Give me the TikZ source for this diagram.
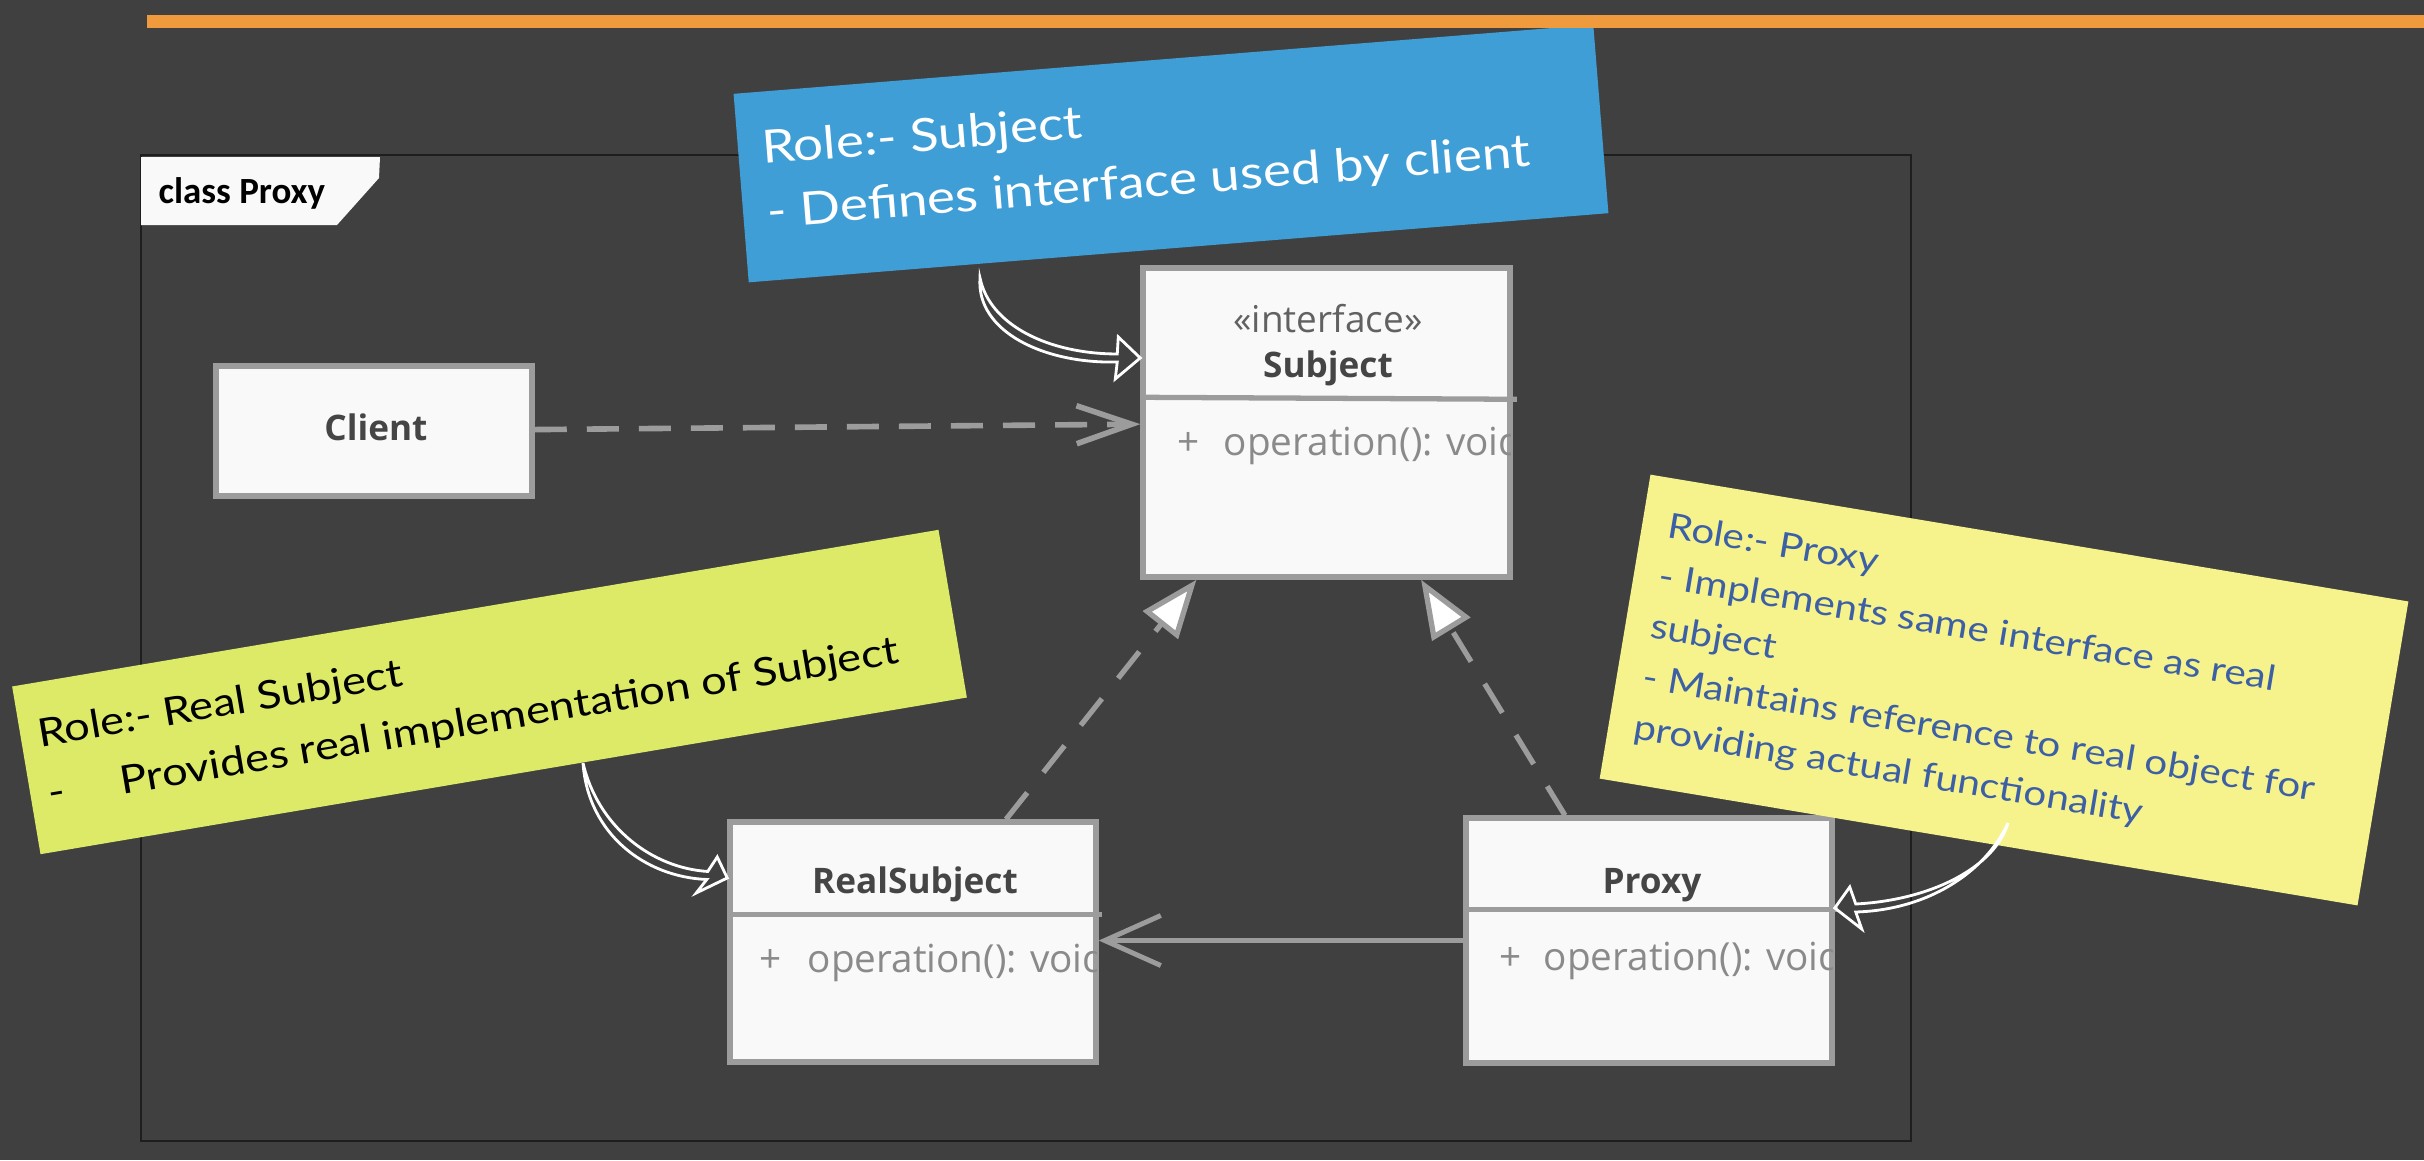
\documentclass[tikz,border=0pt]{standalone}
\usepackage{fontspec}
\usepackage{tikz}
\usetikzlibrary{arrows.meta,positioning,calc}

\newfontfamily\uifont{Open Sans}
\newfontfamily\tabfont{Carlito}
\newfontfamily\handfont[FakeStretch=1.16]{Lato}

\definecolor{bggrey}{HTML}{404040}
\definecolor{barorange}{HTML}{F09A3E}
\definecolor{framedark}{HTML}{1E1E1E}
\definecolor{boxline}{HTML}{9C9C9C}
\definecolor{boxfill}{HTML}{F9F9F9}
\definecolor{nametext}{HTML}{454545}
\definecolor{opgrey}{HTML}{8A8A8A}
\definecolor{notebluefill}{HTML}{409ED6}
\definecolor{notegreenfill}{HTML}{DDEA68}
\definecolor{noteyellowfill}{HTML}{F6F38C}
\definecolor{proxyink}{HTML}{3C5FA6}

\begin{document}
\begin{tikzpicture}[x=0.01cm, y=-0.01cm,
  classbox/.style={draw=boxline, fill=boxfill, line width=1.5pt, inner sep=0pt},
  classname/.style={anchor=base, text=nametext, font=\uifont\bfseries\fontsize{10}{12}\selectfont},
  stereo/.style={anchor=base, text=nametext!85, font=\uifont\fontsize{10.5}{12}\selectfont},
  optext/.style={anchor=base west, text=opgrey, inner sep=0pt, font=\uifont\fontsize{11}{13}\selectfont},
  compline/.style={draw=boxline, line width=1.5pt},
  depend/.style={draw=boxline, line width=1.6pt, dash pattern=on 0.32cm off 0.2cm, -{Straight Barb[length=0.55cm, width=0.38cm]}},
  realize/.style={draw=boxline, line width=1.5pt, dash pattern=on 0.34cm off 0.26cm, -{Triangle[length=0.58cm, width=0.44cm, fill=white]}},
  assoc/.style={draw=boxline, line width=1.4pt, -{Straight Barb[length=0.56cm, width=0.5cm]}},
  note/.style={inner sep=0pt},
  notetext/.style={anchor=north west, align=left, inner sep=0pt},
  callout/.style={draw=white, line width=0.8pt, line join=miter}
]
% Page
\fill[bggrey] (0,0) rectangle (2424,1160);
\useasboundingbox (0,0) rectangle (2424,1160);

% Diagram frame and tab
\draw[framedark, line width=0.6pt] (141,155) rectangle (1911,1141);
\fill[boxfill] (141,157) -- (380,157) -- (379,178) -- (337,225) -- (141,225) -- cycle;
\node[anchor=base west, inner sep=0pt, text=black, font=\tabfont\bfseries\fontsize{10.5}{12}\selectfont] (tablabel) at (158,203) {class Proxy};

% Client
\node[classbox, minimum width=3.16cm, minimum height=1.3cm] (client) at (374,431) {};
\node[classname] (clientname) at (376,440) {Client};

% Subject
\node[classbox, minimum width=3.67cm, minimum height=3.09cm] (subject) at (1326.5,422.5) {};
\draw[compline] ($(subject.north west)+(0,132)$) -- ($(subject.north east)+(4,134)$);
\node[stereo] (subjstereo) at (1328,332) {«interface»};
\node[classname] (subjname) at (1328,377) {Subject};
\begin{scope}
  \clip ($(subject.north west)+(2.5,2.5)$) rectangle ($(subject.south east)+(-2.5,-2.5)$);
  \node[optext] (subjplus) at (1177,455) {+};
  \node[optext] (subjop) at (1223,455) {operation(): void};
\end{scope}

% RealSubject
\node[classbox, minimum width=3.66cm, minimum height=2.4cm] (realsubject) at (913,942) {};
\draw[compline] ($(realsubject.north west)+(0,95)$) -- ($(realsubject.north east)+(3,95)$);
\node[classname] (realname) at (915,893) {RealSubject};
\begin{scope}
  \clip ($(realsubject.north west)+(2.5,2.5)$) rectangle ($(realsubject.south east)+(-2.5,-2.5)$);
  \node[optext] (realplus) at (759,972) {+};
  \node[optext] (realop) at (807,972) {operation(): void};
\end{scope}

% Proxy
\node[classbox, minimum width=3.66cm, minimum height=2.45cm] (proxy) at (1649,940.5) {};
\draw[compline] ($(proxy.north west)+(0,94)$) -- ($(proxy.north east)+(3,94)$);
\node[classname] (proxyname) at (1652,893) {Proxy};
\begin{scope}
  \clip ($(proxy.north west)+(2.5,2.5)$) rectangle ($(proxy.south east)+(-2.5,-2.5)$);
  \node[optext] (proxyplus) at (1499,970) {+};
  \node[optext] (proxyop) at (1543,970) {operation(): void};
\end{scope}

% Relations
\draw[depend] (client) -- (subject);
\draw[realize] ([xshift=0.93cm]realsubject.north) -- ([xshift=-1.3cm]subject.south);
\draw[realize] ([xshift=-0.84cm]proxy.north) -- ([xshift=0.945cm]subject.south);
\draw[assoc] (proxy.west) -- (proxy.west -| realsubject.east);

% Notes
\begin{scope}[shift={(1171,153.5)}, rotate=4.6, transform shape]
  \node[note, fill=notebluefill, minimum width=8.62cm, minimum height=1.89cm] (subjnote) at (0,0) {};
  \node[notetext, text=white, font=\handfont\fontsize{13}{18.2}\selectfont] (subjtext) at (-408,-67.8)
    {\strut Role:- Subject\\- Defines interface used by client};
\end{scope}

\begin{scope}[shift={(489.5,692)}, rotate=9.6, transform shape]
  \node[note, fill=notegreenfill, minimum width=9.39cm, minimum height=1.7cm] (realnote) at (0,0) {};
  \node[notetext, text=black, font=\handfont\fontsize{11.1}{17.1}\selectfont] (realtext) at (-453,-63.1)
    {\strut Role:- Real Subject\\-\hspace{16pt}Provides real implementation of Subject};
\end{scope}

\begin{scope}[shift={(2004,690)}, rotate=-9.5, transform shape]
  \node[note, fill=noteyellowfill, minimum width=7.68cm, minimum height=3.08cm] (proxynote) at (0,0) {};
  \node[notetext, text=proxyink, font=\handfont\fontsize{9.9}{14.5}\selectfont] (proxytext) at (-359,-131.2)
    {\strut Role:- Proxy\\- Implements same interface as real\\subject\\- Maintains reference to real object for\\providing actual functionality};
\end{scope}

% Callouts from notes to classes
\coordinate (subjtail) at (980,278);
\coordinate (subjtip) at ([yshift=0.645cm]subject.west);
\draw[callout] (subjtail) .. controls (990,326) and (1050,354) .. ($(subjtip)+(-23,-4)$)
  -- ($(subjtip)+(-22,-21)$) -- (subjtip) -- ($(subjtip)+(-25,21)$) -- ($(subjtip)+(-23,4)$)
  .. controls (1045,364) and (976,332) .. (subjtail) -- cycle;

\coordinate (realtail) at (583,763);
\coordinate (realtip) at ([yshift=0.64cm]realsubject.west);
\draw[callout] (realtail) .. controls (598,827) and (652,868) .. ($(realtip)+(-19.5,-6.5)$)
  -- ($(realtip)+(-10,-21)$) -- (realtip) -- ($(realtip)+(-31,15)$) -- ($(realtip)+(-20.5,1.5)$)
  .. controls (645,877) and (588,834) .. (realtail) -- cycle;

\coordinate (proxytail) at (2008,823);
\coordinate (proxytip) at ([yshift=0.325cm]proxy.east);
\draw[callout] (proxytail) .. controls (1995,867) and (1932,900) .. ($(proxytip)+(21,-4)$)
  -- ($(proxytip)+(15,-21)$) -- (proxytip) -- ($(proxytip)+(27,21)$) -- ($(proxytip)+(21,4)$)
  .. controls (1927,910) and (1985,873) .. (proxytail) -- cycle;

% Top bar
\draw[barorange, line width=3.6pt] (147,21.5) -- (2424,21.5);
\end{tikzpicture}
\end{document}
